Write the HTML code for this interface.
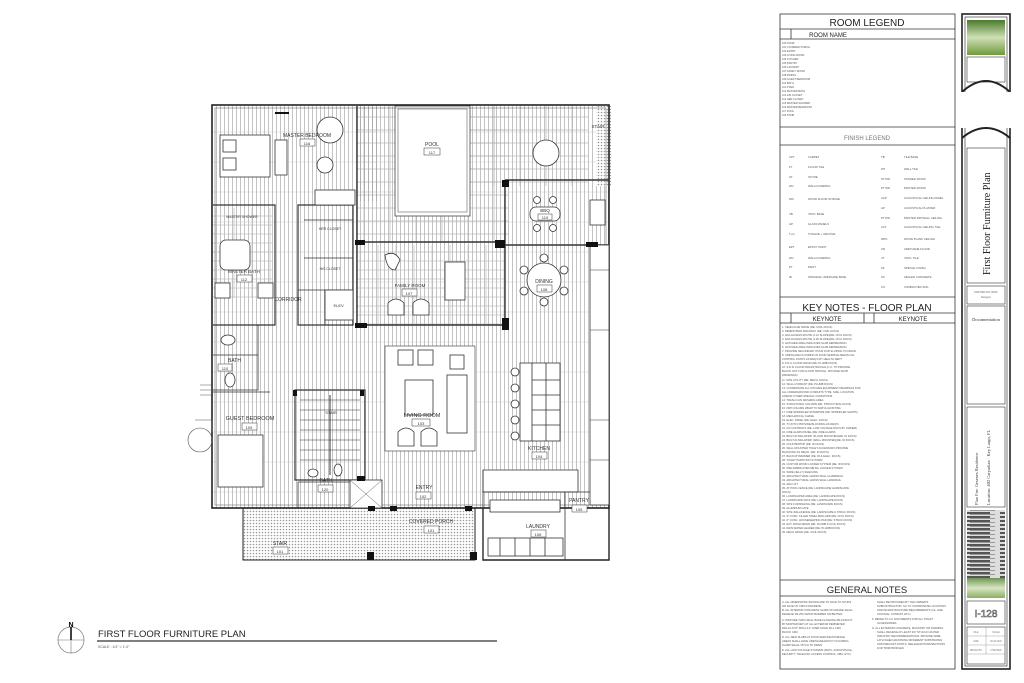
<!DOCTYPE html>
<html><head><meta charset="utf-8"><style>
html,body{margin:0;padding:0;background:#fff;}
svg{display:block;font-family:"Liberation Sans",sans-serif;}
</style></head><body>
<svg width="1024" height="683" viewBox="0 0 1024 683" xmlns="http://www.w3.org/2000/svg">
<defs>
<pattern id="wood" width="4" height="30" patternUnits="userSpaceOnUse">
<line x1="0.5" y1="0" x2="0.5" y2="30" stroke="#9a9a9a" stroke-width="0.6"/>
<line x1="0" y1="12" x2="4" y2="12" stroke="#bbb" stroke-width="0.4"/>
</pattern>
<pattern id="tile" width="18" height="9" patternUnits="userSpaceOnUse">
<rect width="18" height="9" fill="none" stroke="#b5b5b5" stroke-width="0.6"/>
</pattern>
<pattern id="tile2" width="26" height="13" patternUnits="userSpaceOnUse">
<rect width="26" height="13" fill="none" stroke="#aaa" stroke-width="0.6"/>
</pattern>
<pattern id="hatch" width="3" height="3" patternUnits="userSpaceOnUse">
<rect width="3" height="3" fill="#fff"/><circle cx="1.5" cy="1.5" r="0.8" fill="#999"/>
</pattern>
<linearGradient id="grn" x1="0" y1="0" x2="0" y2="1">
<stop offset="0" stop-color="#4a7a2a"/><stop offset="0.5" stop-color="#cfe0b5"/><stop offset="1" stop-color="#6f9a3c"/>
</linearGradient>
<pattern id="streak" width="40" height="4" patternUnits="userSpaceOnUse">
<rect width="40" height="4" fill="#ddd"/><rect y="0" width="30" height="2" fill="#555"/><rect x="10" y="2" width="25" height="1" fill="#999"/>
</pattern>
</defs>

<!-- ================= FLOOR PLAN ================= -->
<g stroke="#333" stroke-width="0.8" fill="none">
<!-- floors -->
<rect x="213" y="106" width="396" height="402" fill="url(#wood)" stroke="none"/>
<rect x="357" y="106" width="152" height="136" fill="url(#tile2)" stroke="none"/>
<rect x="468" y="106" width="120" height="80" fill="url(#tile2)" stroke="none"/>
<rect x="357" y="245" width="148" height="80" fill="url(#tile)" stroke="none"/>
<rect x="213" y="208" width="60" height="90" fill="url(#tile)" stroke="none"/>
<rect x="596" y="106" width="15" height="80" fill="url(#hatch)" stroke="none"/>
<rect x="243" y="508" width="232" height="52" fill="url(#hatch)" stroke="none"/>
<rect x="357" y="106" width="20" height="95" fill="url(#wood)" stroke="none" opacity="0.9"/>
<!-- pool -->
<rect x="395" y="106" width="75" height="110" fill="#fff" stroke="#444"/>
<rect x="398" y="109" width="69" height="103" fill="none" stroke="#888"/>
<text x="432" y="146" font-size="5" text-anchor="middle" stroke="none" fill="#333">POOL</text>
<rect x="424" y="148" width="16" height="7" stroke-width="0.5"/><text x="432" y="154" font-size="4" text-anchor="middle" stroke="none" fill="#333">117</text>

<!-- outer walls -->
<rect x="212" y="105" width="397" height="403" stroke="#222" stroke-width="1.6"/>
<rect x="215" y="108" width="391" height="397" stroke="#555" stroke-width="0.5"/>
<path d="M243 508 V560 H475 V508" stroke="#222" stroke-width="1"/>
<path d="M483 508 V560 H609 V508" stroke="#222" stroke-width="1.4"/>
<!-- interior walls -->
<path d="M357 106 V325" stroke-width="1.4"/>
<path d="M357 242 H505 M357 325 H505 M505 180 V330" stroke-width="1.4"/>
<path d="M505 180 H609 M505 245 H609" stroke-width="1.4"/>
<path d="M298 205 V325 H353 V205 Z" stroke-width="1.2"/>
<path d="M304 220 H353 M304 258 H353 M325 290 V325 M298 290 H353"/>
<rect x="325" y="290" width="28" height="30" fill="#fff"/>
<text x="339" y="307" font-size="4" text-anchor="middle" stroke="none" fill="#333">ELEV.</text>
<path d="M213 205 H275 V325 H213" stroke-width="1.2"/>
<path d="M213 325 H258 V390 H213 M213 392 H270"/>
<path d="M213 355 H258"/>
<path d="M295 390 H365 V480 H295 Z" stroke-width="1.2"/>
<path d="M300 400 H360 M300 410 H360 M300 420 H360 M300 430 H360 M300 440 H360 M300 450 H360 M300 460 H360" stroke-width="0.5"/>
<path d="M330 395 V475" stroke-width="1"/>
<path d="M298 482 H360 V508 M298 482 V508"/>
<path d="M363 482 V508"/>
<path d="M483 470 H578 V492 H483 Z" fill="#fff"/>
<path d="M483 492 H609 M483 470 V560"/>
<path d="M565 492 V560"/>
<rect x="590" y="245" width="19" height="260" fill="#fff"/>
<path d="M590 270 H609 M590 330 H609 M590 420 H609 M590 460 H609" stroke-width="0.5"/>
<!-- master bedroom furniture -->
<rect x="220" y="135" width="50" height="42" fill="#fff"/>
<rect x="223" y="140" width="13" height="12" /><rect x="223" y="158" width="13" height="12"/>
<rect x="275" y="140" width="12" height="35" fill="#fff"/>
<circle cx="330" cy="130" r="13" fill="#fff"/>
<circle cx="325" cy="165" r="8" fill="#fff"/>
<rect x="315" y="190" width="40" height="15" fill="#fff"/>
<text x="307" y="137" font-size="5" stroke="none" fill="#333" text-anchor="middle">MASTER BEDROOM</text>
<rect x="300" y="139" width="15" height="7" stroke-width="0.5" fill="#fff"/><text x="307" y="145" font-size="4" text-anchor="middle" stroke="none" fill="#333">116</text>
<!-- master bath -->
<rect x="220" y="240" width="30" height="30" rx="6" fill="#fff"/>
<rect x="215" y="283" width="15" height="15" fill="#fff"/><rect x="258" y="283" width="15" height="15" fill="#fff"/>
<text x="242" y="218" font-size="3.5" stroke="none" fill="#333" text-anchor="middle">MASTER SHOWER</text>
<text x="244" y="273" font-size="4.5" stroke="none" fill="#333" text-anchor="middle">MASTER BATH</text>
<rect x="237" y="275" width="15" height="7" stroke-width="0.5" fill="#fff"/><text x="244" y="281" font-size="4" text-anchor="middle" stroke="none" fill="#333">112</text>
<text x="288" y="301" font-size="5" stroke="none" fill="#333" text-anchor="middle">CORRIDOR</text>
<text x="330" y="230" font-size="3.5" stroke="none" fill="#333" text-anchor="middle">HER CLOSET</text>
<text x="330" y="270" font-size="3.5" stroke="none" fill="#333" text-anchor="middle">HIS CLOSET</text>
<!-- bath 110 -->
<ellipse cx="228" cy="340" rx="7" ry="5" fill="#fff"/>
<ellipse cx="230" cy="380" rx="5" ry="7" fill="#fff"/>
<text x="228" y="362" font-size="5" stroke="none" fill="#333">BATH</text>
<rect x="218" y="364" width="14" height="7" stroke-width="0.5" fill="#fff"/><text x="225" y="370" font-size="4" text-anchor="middle" stroke="none" fill="#333">110</text>
<!-- guest bedroom -->
<rect x="218" y="435" width="45" height="52" fill="#fff"/>
<text x="250" y="420" font-size="5.5" stroke="none" fill="#333" text-anchor="middle">GUEST BEDROOM</text>
<rect x="242" y="423" width="15" height="7" stroke-width="0.5" fill="#fff"/><text x="249" y="429" font-size="4" text-anchor="middle" stroke="none" fill="#333">109</text>
<!-- bath 120 -->
<ellipse cx="313" cy="473" rx="5" ry="4" fill="#fff"/><ellipse cx="338" cy="470" rx="4" ry="6" fill="#fff"/>
<rect x="350" y="480" width="32" height="28" fill="#fff"/><path d="M350 480 L382 508 M382 480 L350 508" stroke-width="0.4"/>
<text x="326" y="482" font-size="5" stroke="none" fill="#333" text-anchor="middle">BATH</text>
<rect x="318" y="485" width="15" height="7" stroke-width="0.5" fill="#fff"/><text x="325" y="491" font-size="4" text-anchor="middle" stroke="none" fill="#333">120</text>
<!-- family room -->
<path d="M385 255 q10 -5 15 5 l-5 10 q-8 0 -10 -15 Z" fill="#fff"/>
<rect x="445" y="262" width="20" height="38" fill="#fff"/>
<path d="M388 303 q8 -8 16 0 v12 h-16 Z M413 303 q8 -8 16 0 v12 h-16 Z" fill="#fff"/>
<text x="410" y="287" font-size="4.5" stroke="none" fill="#333" text-anchor="middle">FAMILY ROOM</text>
<rect x="402" y="289" width="15" height="7" stroke-width="0.5" fill="#fff"/><text x="409" y="295" font-size="4" text-anchor="middle" stroke="none" fill="#333">107</text>
<!-- living room -->
<rect x="385" y="346" width="90" height="105" fill="#fff" stroke-width="0.6"/>
<rect x="398" y="350" width="15" height="15" fill="#fff"/><rect x="418" y="350" width="15" height="15" fill="#fff"/>
<rect x="450" y="355" width="14" height="14" fill="#fff"/>
<rect x="405" y="380" width="28" height="35" fill="#fff"/>
<rect x="447" y="375" width="20" height="58" fill="#fff"/>
<path d="M398 432 q8 -8 16 0 v14 h-16 Z M421 432 q8 -8 16 0 v14 h-16 Z" fill="#fff"/>
<text x="422" y="417" font-size="5.5" stroke="none" fill="#333" text-anchor="middle">LIVING ROOM</text>
<rect x="412" y="419" width="18" height="7" stroke-width="0.5" fill="#fff"/><text x="421" y="425" font-size="4" text-anchor="middle" stroke="none" fill="#333">103</text>
<text x="424" y="489" font-size="5" stroke="none" fill="#333" text-anchor="middle">ENTRY</text>
<rect x="416" y="492" width="15" height="7" stroke-width="0.5" fill="#fff"/><text x="423" y="498" font-size="4" text-anchor="middle" stroke="none" fill="#333">102</text>
<!-- kitchen island -->
<rect x="520" y="363" width="40" height="78" fill="#fff"/>
<path d="M532 363 V441 M546 363 V441 M532 380 H560 M532 395 H560 M532 410 H560 M532 425 H560"/>
<circle cx="515" cy="372" r="4" fill="#fff"/><circle cx="515" cy="388" r="4" fill="#fff"/><circle cx="515" cy="404" r="4" fill="#fff"/><circle cx="515" cy="420" r="4" fill="#fff"/><circle cx="515" cy="436" r="4" fill="#fff"/>
<text x="539" y="450" font-size="5" stroke="none" fill="#333" text-anchor="middle">KITCHEN</text>
<rect x="532" y="452" width="15" height="7" stroke-width="0.5" fill="#fff"/><text x="539" y="458" font-size="4" text-anchor="middle" stroke="none" fill="#333">104</text>
<!-- laundry & pantry -->
<rect x="490" y="500" width="70" height="12" fill="#fff"/>
<rect x="488" y="538" width="75" height="18" fill="#fff"/>
<path d="M500 538 V556 M515 538 V556 M530 538 V556 M545 538 V556"/>
<text x="538" y="528" font-size="5" stroke="none" fill="#333" text-anchor="middle">LAUNDRY</text>
<rect x="531" y="530" width="15" height="7" stroke-width="0.5" fill="#fff"/><text x="538" y="536" font-size="4" text-anchor="middle" stroke="none" fill="#333">106</text>
<text x="579" y="502" font-size="5" stroke="none" fill="#333" text-anchor="middle">PANTRY</text>
<rect x="572" y="505" width="15" height="7" stroke-width="0.5" fill="#fff"/><text x="579" y="511" font-size="4" text-anchor="middle" stroke="none" fill="#333">105</text>
<!-- dining -->
<circle cx="544" cy="280" r="17" fill="#fff"/>
<circle cx="544" cy="258" r="4" fill="#fff"/><circle cx="544" cy="302" r="4" fill="#fff"/><circle cx="524" cy="270" r="4" fill="#fff"/><circle cx="564" cy="270" r="4" fill="#fff"/><circle cx="524" cy="291" r="4" fill="#fff"/><circle cx="564" cy="291" r="4" fill="#fff"/>
<text x="544" y="283" font-size="5" stroke="none" fill="#333" text-anchor="middle">DINING</text>
<rect x="537" y="285" width="15" height="7" stroke-width="0.5" fill="#fff"/><text x="544" y="291" font-size="4" text-anchor="middle" stroke="none" fill="#333">108</text>
<!-- bbq -->
<rect x="530" y="207" width="30" height="14" rx="6" fill="#fff"/>
<circle cx="537" cy="200" r="3.5" fill="#fff"/><circle cx="553" cy="200" r="3.5" fill="#fff"/><circle cx="537" cy="228" r="3.5" fill="#fff"/><circle cx="553" cy="228" r="3.5" fill="#fff"/>
<text x="545" y="212" font-size="4.5" stroke="none" fill="#333" text-anchor="middle">BBQ</text>
<rect x="538" y="214" width="14" height="6" stroke-width="0.5" fill="#fff"/><text x="545" y="219" font-size="4" text-anchor="middle" stroke="none" fill="#333">119</text>
<circle cx="546" cy="153" r="13" fill="#fff"/>
<rect x="590" y="200" width="15" height="25" fill="#fff"/>
<text x="598" y="128" font-size="4.5" stroke="none" fill="#333" text-anchor="middle">STAIR</text>
<text x="280" y="545" font-size="5" stroke="none" fill="#333" text-anchor="middle">STAIR</text>
<rect x="273" y="547" width="15" height="7" stroke-width="0.5" fill="#fff"/><text x="280" y="553" font-size="4" text-anchor="middle" stroke="none" fill="#333">101</text>
<text x="431" y="523" font-size="5" stroke="none" fill="#333" text-anchor="middle">COVERED PORCH</text>
<rect x="424" y="526" width="15" height="7" stroke-width="0.5" fill="#fff"/><text x="431" y="532" font-size="4" text-anchor="middle" stroke="none" fill="#333">101</text>
<text x="331" y="414" font-size="4" stroke="none" fill="#333" text-anchor="middle">STAIR</text>
<!-- columns -->
<g fill="#111" stroke="none">
<rect x="355" y="240" width="10" height="5"/><rect x="495" y="240" width="10" height="8"/><rect x="355" y="323" width="12" height="5"/>
<rect x="502" y="180" width="7" height="7"/><rect x="502" y="318" width="7" height="12"/><rect x="586" y="242" width="12" height="5"/>
<rect x="293" y="390" width="4" height="6"/><rect x="360" y="390" width="4" height="6"/><rect x="357" y="476" width="8" height="5"/>
<rect x="368" y="506" width="7" height="5"/><rect x="390" y="506" width="7" height="5"/><rect x="465" y="506" width="7" height="5"/>
<rect x="367" y="552" width="7" height="8"/><rect x="470" y="552" width="7" height="8"/>
<rect x="275" y="112" width="14" height="2"/>
</g>
</g>
<!-- left outside bits -->
<g stroke="#555" stroke-width="0.6" fill="none">
<path d="M200 385 H212 M200 390 H212 M200 395 H212"/>
<circle cx="200" cy="440" r="12"/>
<path d="M195 420 H212 V432"/>
</g>

<!-- title -->
<circle cx="71" cy="640" r="13" fill="none" stroke="#777" stroke-width="0.7"/>
<path d="M58 640 H84 M71 627 V653" stroke="#777" stroke-width="0.6"/>
<path d="M71 627 V640" stroke="#111" stroke-width="1.6"/>
<text x="71" y="627" font-size="7" font-weight="bold" text-anchor="middle">N</text>
<text x="98" y="637" font-size="9.5" fill="#222">FIRST FLOOR FURNITURE PLAN</text>
<line x1="97" y1="641" x2="497" y2="641" stroke="#333" stroke-width="1.2"/>
<text x="98" y="648" font-size="3.5" fill="#555">SCALE :   1/4" = 1'-0"</text>

<!-- ================= LEGEND PANEL ================= -->
<g stroke="#333" stroke-width="0.8" fill="none">
<rect x="780" y="14" width="175" height="655"/>
<path d="M780 29 H955 M780 39 H955 M780 127 H955 M780 145 H955 M780 297 H955 M780 313 H955 M780 323 H955 M780 580 H955 M780 596 H955"/>
<path d="M791 29 V39 M791 313 V323 M864 313 V323 M874 313 V323"/>
</g>
<g fill="#222">
<text x="867" y="26" font-size="10" text-anchor="middle">ROOM LEGEND</text>
<text x="828" y="37" font-size="6" text-anchor="middle">ROOM NAME</text>
<text x="867" y="140" font-size="6" text-anchor="middle" fill="#777">FINISH LEGEND</text>
<text x="867" y="311" font-size="10" text-anchor="middle">KEY NOTES - FLOOR PLAN</text>
<text x="827" y="321" font-size="6" text-anchor="middle">KEYNOTE</text>
<text x="913" y="321" font-size="6" text-anchor="middle">KEYNOTE</text>
<text x="867" y="593" font-size="9.5" text-anchor="middle">GENERAL NOTES</text>
</g>
<g font-size="2.6" fill="#555">
<text x="782" y="44">100 STAIR</text><text x="782" y="48">101 COVERED PORCH</text><text x="782" y="52">102 ENTRY</text><text x="782" y="56">103 LIVING ROOM</text><text x="782" y="60">104 KITCHEN</text><text x="782" y="64">105 PANTRY</text><text x="782" y="68">106 LAUNDRY</text><text x="782" y="72">107 FAMILY ROOM</text><text x="782" y="76">108 DINING</text><text x="782" y="80">109 GUEST BEDROOM</text><text x="782" y="84">110 BATH</text><text x="782" y="88">111 STAIR</text><text x="782" y="92">112 MASTER BATH</text><text x="782" y="96">113 HIS CLOSET</text><text x="782" y="100">114 HER CLOSET</text><text x="782" y="104">115 MASTER SHOWER</text><text x="782" y="108">116 MASTER BEDROOM</text><text x="782" y="112">117 POOL</text><text x="782" y="116">118 STAIR</text>
</g>
<g font-size="2.8" fill="#555">
<text x="789" y="158">CPT</text><text x="808" y="158">CARPET</text><text x="881" y="158">TB</text><text x="904" y="158">TILE BASE</text>
<text x="789" y="168">FT</text><text x="808" y="168">FLOOR TILE</text><text x="881" y="170">WT</text><text x="904" y="170">WALL TILE</text>
<text x="789" y="178">ST</text><text x="808" y="178">STONE</text><text x="881" y="180">ST WD</text><text x="904" y="180">STAINED WOOD</text>
<text x="789" y="187">WC</text><text x="808" y="187">WALLCOVERING</text><text x="881" y="189">PT WD</text><text x="904" y="189">PAINTED WOOD</text>
<text x="789" y="200">WD</text><text x="808" y="200">WOOD FLOOR W/ BASE</text><text x="881" y="199">ACP</text><text x="904" y="199">ACOUSTICAL CEILING PANEL</text>
<text x="789" y="215">VB</text><text x="808" y="215">VINYL BASE</text><text x="881" y="209">AP</text><text x="904" y="209">ACOUSTICAL PLASTER</text>
<text x="789" y="225">GP</text><text x="808" y="225">GLASS PANELS</text><text x="881" y="219">PT DW</text><text x="904" y="219">PAINTED DRYWALL CEILING</text>
<text x="789" y="235">T+G</text><text x="808" y="235">TONGUE + GROOVE</text><text x="881" y="228">ACT</text><text x="904" y="228">ACOUSTICAL CEILING TILE</text>
<text x="789" y="248">EPT</text><text x="808" y="248">EPOXY PAINT</text><text x="881" y="240">WPC</text><text x="904" y="240">WOOD PLANK CEILING</text>
<text x="789" y="259">WC</text><text x="808" y="259">WALLCOVERING</text><text x="881" y="250">UR</text><text x="904" y="250">URETHANE FLOOR</text>
<text x="789" y="268">PT</text><text x="808" y="268">PAINT</text><text x="881" y="259">VT</text><text x="904" y="259">VINYL TILE</text>
<text x="789" y="278">IB</text><text x="808" y="278">INTEGRAL URETHANE BASE</text><text x="881" y="269">SF</text><text x="904" y="269">SPECIAL FINISH</text>
<text x="881" y="278">SC</text><text x="904" y="278">SEALED CONCRETE</text><text x="881" y="288">CS</text><text x="904" y="288">COMPACTED SOIL</text>
</g>
<g font-size="2.7" fill="#555">
<text x="782" y="328">1.  VEHICULAR DRIVE (RE: CIVIL DOCS)</text><text x="782" y="332">2.  PEDESTRIAN WALKWAY (RE: CIVIL DOCS)</text><text x="782" y="336">3.  ADA ACCESS ROUTE (1:12 SLOPE)(RE: CIVIL DOCS)</text><text x="782" y="340">4.  ADA ACCESS ROUTE (1:20 SLOPE)(RE: CIVIL DOCS)</text><text x="782" y="344">5.  HATCHED AREA INDICATES SLAB DEPRESSION</text><text x="782" y="348">6.  HATCHED AREA INDICATES SLAB DEPRESSION</text><text x="782" y="352">7.  PROVIDE SECONDARY POUR FOR SLOPING TO DRAIN</text><text x="782" y="356">8.  URETHANE FLOORING IN FOOD SERVICE AREAS FILL</text><text x="782" y="360">     CONTROL JOINTS AS REQ'D BY HEALTH DEPT.</text><text x="782" y="364">9.  F.D.H. FLOOR DRAIN (RE: PLUMB DOCS)</text><text x="782" y="368">10. S.D.R. FLOOR DRAIN/TROUGH (C.C. TO PROVIDE</text><text x="782" y="372">     BLOCK OUT FOR FLOOR TROUGH. PROVIDE SHOP</text><text x="782" y="376">     DRAWINGS)</text><text x="782" y="381">11. SITE UTILITY (RE: MECH. DOCS)</text><text x="782" y="385">12. WALL HYDRANT (RE: PLUMB DOCS)</text><text x="782" y="389">13. COORDINATE ALL KITCHEN EQUIPMENT DRAWINGS FOR</text><text x="782" y="393">     ALL UNDERGROUND CONDUITS TYPE, SIZE, LOCATION</text><text x="782" y="397">     AND/OR OTHER SPECIAL CONDITIONS.</text><text x="782" y="401">14. TRASH CAN WASHING AREA</text><text x="782" y="405">15. STRUCTURAL COLUMN (RE: STRUCTURAL DOCS)</text><text x="782" y="409">16. FRP COLUMN WRAP TO MATCH EXISTING</text><text x="782" y="413">17. FIRE SPRINKLER STANDPIPE (RE: SPRINKLER SHOPS)</text><text x="782" y="417">18. MECHANICAL CHASE</text><text x="782" y="421">19. ELEC. PANEL (RE: ELEC. DOCS)</text><text x="782" y="425">20. TV (DTC) PROVIDE BLOCKING AS REQ'D.</text><text x="782" y="429">21. A/V CONTROLS (RE: LOW VOLTAGE DOCS BY OWNER)</text><text x="782" y="433">22. FIRE ALARM PANEL (RE: FIRE ALARM)</text><text x="782" y="437">23. BUILT-IN MILLWORK (FLOOR MOUNTED)(RE: ID DOCS)</text><text x="782" y="441">24. BUILT-IN MILLWORK (WALL MOUNTED)(RE: ID DOCS)</text><text x="782" y="445">25. COUNTERTOP (RE: ID DOCS)</text><text x="782" y="449">26. WALL MOUNTED TOILET ACCESSORY-PROVIDE</text><text x="782" y="453">     BLOCKING AS REQ'D. (RE: ID DOCS)</text><text x="782" y="457">27. BACKUP WARMER (RE: ID &amp; ELEC. DOCS)</text><text x="782" y="461">28. TOILET PARTITION SYSTEM</text><text x="782" y="465">29. CUSTOM WOOD LOCKER SYSTEM (RE: ID DOCS)</text><text x="782" y="469">30. PRE-FABRICATED METAL LOCKER SYSTEM</text><text x="782" y="473">31. WIRE (JELLY) SHELVING</text><text x="782" y="477">32. ARCHITECTURAL GRASS WALL GUARDRAIL</text><text x="782" y="481">33. ARCHITECTURAL GRASS WALL HANDRAIL</text><text x="782" y="485">34. ADA LIFT</text><text x="782" y="489">35. AT POOL FENCE (RE: LANDSCAPE/ HARDSCAPE</text><text x="782" y="493">     DOCS)</text><text x="782" y="497">36. LANDSCAPED AREA (RE: LANDSCAPE DOCS)</text><text x="782" y="501">37. LANDSCAPE WICK (RE: LANDSCAPE DOCS)</text><text x="782" y="505">38. SITE FURNISHING (RE: LANDSCAPE DOCS)</text><text x="782" y="509">39. ALUMINUM GATE</text><text x="782" y="513">40. SITE WALL/FENCE (RE: LANDSCAPE &amp; STRUC DOCS)</text><text x="782" y="517">41. 6" CONC. FILLED STEEL BOLLARD (RE: CIVIL DOCS)</text><text x="782" y="521">42. 6" CONC. HOUSEKEEPING PAD (RE: STRUC DOCS)</text><text x="782" y="525">43. EXT. WASH DRAIN (RE: PLUMB &amp; CIVIL DOCS)</text><text x="782" y="529">44. RAIN WATER LEADER (RE: PLUMB DOCS)</text><text x="782" y="533">45. DECO DRAIN (RE: CIVIL DOCS)</text>
<text x="782" y="603">A.  ALL DIMENSIONS SHOWN ARE TO FACE TO STUDS</text><text x="782" y="607">     OR FACE OF CMU/CONCRETE.</text><text x="782" y="611">B.  ALL INTERIOR CONCRETE SLABS ON GRADE SHALL</text><text x="782" y="615">     RECEIVE VB-250 VAPOR BARRIER OR BETTER.</text><text x="782" y="621">C.  PROVIDE THRU-WALL BASE FLASHING (BLOCKOUT</text><text x="782" y="625">     BY MORTAR NET) AT ALL EXTERIOR PERIMETER</text><text x="782" y="629">     WALLS AT 8" MIN A.F.F. OVER SOLID FILL CMU</text><text x="782" y="633">     BLOCK CMU.</text><text x="782" y="638">D.  ALL NEW SLABS AT FOOD SERVICE/STORAGE</text><text x="782" y="642">     AREAS SHALL HAVE URETHANE EPOXY FLOORING.</text><text x="782" y="646">     SLABS SHALL PITCH TO DRAIN.</text><text x="782" y="651">E.  ALL LOW VOLTAGE SYSTEMS (MATV, AUDIO/VISUAL,</text><text x="782" y="655">     SECURITY, TELECOM, ACCESS CONTROL, DBA, ETC)</text>
<text x="877" y="603">SHALL BE PROVIDED BY THE OWNER'S</text><text x="877" y="607">SUBCONTRACTOR.  GC TO COORDINATE LOCATIONS</text><text x="877" y="611">AND INFRASTRUCTURE REQUIREMENTS (I.E. LINE</text><text x="877" y="615">VOLTAGE, CONDUIT, ETC)</text><text x="872" y="620">F.  REFER TO I.D. DOCUMENTS FOR ALL TOILET</text><text x="877" y="624">ACCESSORIES</text><text x="872" y="629">G.  ALL EXTERIOR CONCRETE, MASONRY OR FRAMING</text><text x="877" y="633">SHALL RECEIVE AT LEAST 3/4" STUCCO AS PER</text><text x="877" y="637">INDUSTRY RECOMMENDATIONS.  PROVIDE WIRE</text><text x="877" y="641">LATH WHEN ADJOINING DIFFERENT SUBSTRATES</text><text x="877" y="645">AND PRECAST JOINTS. SEE ELEVATIONS/SECTIONS</text><text x="877" y="649">FOR TRIM PROFILES.</text>
</g>

<!-- ================= TITLE BLOCK ================= -->
<g stroke="#222" fill="none">
<rect x="962" y="14" width="48" height="655" stroke-width="1.6"/>
<rect x="965" y="17" width="42" height="649" stroke-width="0.6"/>
</g>
<rect x="967" y="20" width="38" height="35" fill="url(#grn)"/>
<rect x="967" y="57" width="38" height="25" fill="#fff" stroke="#333" stroke-width="0.6"/>
<path d="M962 92 Q986 70 1010 92" fill="none" stroke="#222" stroke-width="2"/>
<path d="M962 89 V92 M1010 89 V92" stroke="#222"/>
<rect x="958" y="92" width="56" height="36" fill="#fff"/>
<path d="M962 138 Q986 118 1010 138" fill="none" stroke="#222" stroke-width="2"/>
<rect x="967" y="148" width="38" height="135" fill="none" stroke="#333" stroke-width="0.6"/>
<text transform="translate(990,275) rotate(-90)" font-family="Liberation Serif,serif" font-size="10" fill="#222">First Floor Furniture Plan</text>
<rect x="967" y="286" width="38" height="18" fill="none" stroke="#333" stroke-width="0.6"/>
<text x="986" y="293" font-size="2.5" text-anchor="middle" fill="#666">PRINTED ON: 00/00</text>
<text x="986" y="298" font-size="2.5" text-anchor="middle" fill="#666">Designer</text>
<rect x="967" y="306" width="38" height="98" fill="none" stroke="#333" stroke-width="0.6"/>
<text x="986" y="321" font-family="Liberation Serif,serif" font-size="4.5" text-anchor="middle" fill="#333">Documentation</text>
<rect x="967" y="407" width="38" height="100" fill="none" stroke="#333" stroke-width="0.6"/>
<text transform="translate(978,505) rotate(-90)" font-family="Liberation Serif,serif" font-size="4.5" fill="#333">Plan For:     Gesenes Residence</text>
<text transform="translate(990,505) rotate(-90)" font-family="Liberation Serif,serif" font-size="4.5" fill="#333">Location:     402 Caryadian · Key Largo, FL</text>
<rect x="967" y="510" width="38" height="68" fill="url(#streak)"/>
<rect x="967" y="578" width="38" height="20" fill="url(#grn)" opacity="0.8"/>
<rect x="967" y="601" width="38" height="23" fill="none" stroke="#333" stroke-width="0.6"/>
<text x="986" y="617" font-size="10" text-anchor="middle" fill="#fff" stroke="#555" stroke-width="0.6">I-128</text>
<rect x="967" y="627" width="38" height="37" fill="none" stroke="#333" stroke-width="0.6"/>
<path d="M967 636 H1005 M967 645 H1005 M967 654 H1005 M986 627 V654" stroke="#888" stroke-width="0.4"/>
<g font-size="2.3" fill="#777" text-anchor="middle"><text x="976" y="633">FILE</text><text x="996" y="633">SCALE</text><text x="976" y="642">SIZE</text><text x="996" y="642">00.00.0000</text><text x="976" y="651">DRAWN BY</text><text x="996" y="651">CHECKED</text></g>
</svg>
</body></html>
